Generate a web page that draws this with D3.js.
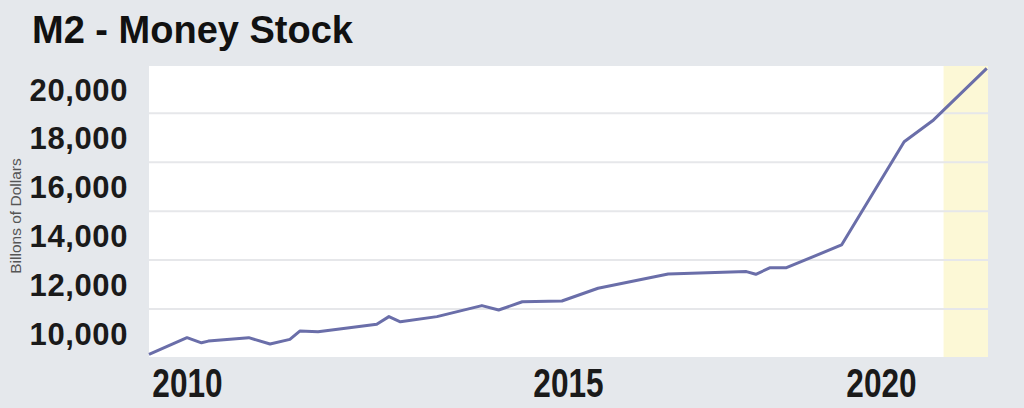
<!DOCTYPE html>
<html>
<head>
<meta charset="utf-8">
<script src="https://cdn.jsdelivr.net/npm/d3@7"></script>
<style>
  html, body { margin: 0; padding: 0; background: #e5e8ec; }
  svg { display: block; }
</style>
</head>
<body>
<svg id="chart"></svg>
<script>
// M2 money stock, billions of dollars
var dates = [2009.50, 2010.00, 2010.19, 2010.28, 2010.81, 2011.09, 2011.35, 2011.48, 2011.72,
             2012.49, 2012.65, 2012.80, 2013.28, 2013.87, 2014.09, 2014.40, 2014.92, 2015.48,
             2016.60, 2017.85, 2018.00, 2018.23, 2018.49, 2019.37, 2020.37, 2020.84, 2021.69]
var values = [9150, 9830, 9620, 9690, 9830, 9570, 9760, 10100, 10070,
              10380, 10690, 10480, 10690, 11140, 10960, 11300, 11330, 11850,
              12430, 12530, 12420, 12690, 12690, 13620, 17840, 18730, 20840]
var yTicks = [10000, 12000, 14000, 16000, 18000, 20000]
var gridValues = [11000, 13000, 15000, 17000, 19000]
var xTicks = [2010, 2015, 2020]
var highlightFrom = 2021

var width = 1024, height = 408
var margin = {top: 66, right: 36, bottom: 51, left: 149}

var svg = d3.select("#chart")
    .attr("width", width)
    .attr("height", height)

svg.append("rect")
    .attr("width", width).attr("height", height)
    .attr("fill", "#e5e8ec")

// the year ticks are not evenly spaced in the original, so the scale is piecewise
var x = d3.scaleLinear()
    .domain([2009.5, 2010, 2015, 2020, 2021.71])
    .range([margin.left, 187, 568, 881, width - margin.right])

var y = d3.scaleLinear()
    .domain([9040, 20935])
    .range([height - margin.bottom, margin.top])

svg.append("rect")
    .attr("x", x.range()[0])
    .attr("y", margin.top)
    .attr("width", x(d3.max(x.domain())) - x.range()[0])
    .attr("height", height - margin.bottom - margin.top)
    .attr("fill", "#ffffff")

// highlighted (shaded) period
svg.append("rect")
    .attr("x", x(highlightFrom))
    .attr("y", margin.top)
    .attr("width", x(d3.max(x.domain())) - x(highlightFrom))
    .attr("height", height - margin.bottom - margin.top)
    .attr("fill", "#fcf8d6")

svg.append("g")
    .selectAll("line")
    .data(gridValues)
    .enter().append("line")
    .attr("x1", margin.left)
    .attr("x2", width - margin.right)
    .attr("y1", function (d) { return y(d) })
    .attr("y2", function (d) { return y(d) })
    .attr("stroke", "#e6e7ea")
    .attr("stroke-width", 2)

// y labels
var yAxis = svg.append("g")
    .attr("transform", "translate(128,0)")
    .call(d3.axisLeft(y).tickValues(yTicks).tickSize(0).tickPadding(0).tickFormat(d3.format(",")))
yAxis.select(".domain").remove()
yAxis.selectAll("text")
    .attr("fill", "#1a1a1a")
    .attr("font-family", "'Liberation Sans', Arial, sans-serif")
    .attr("font-weight", "bold")
    .attr("font-size", 31)
    .attr("letter-spacing", 0.6)
    .attr("dy", "0.36em")

// x labels (condensed look: squeeze the bold face horizontally)
var xAxis = svg.append("g")
    .attr("transform", "translate(0," + (height - margin.bottom) + ")")
    .call(d3.axisBottom(x).tickValues(xTicks).tickSize(0).tickPadding(0).tickFormat(d3.format("d")))
xAxis.select(".domain").remove()
xAxis.selectAll("text")
    .attr("fill", "#1a1a1a")
    .attr("font-family", "'Liberation Sans', Arial, sans-serif")
    .attr("font-weight", "bold")
    .attr("font-size", 40)
    .attr("dy", null)
    .attr("y", 40)
    .attr("transform", "scale(0.79,1)")

svg.append("text")
    .attr("transform", "translate(21,216) rotate(-90)")
    .attr("text-anchor", "middle")
    .attr("font-family", "'Liberation Sans', Arial, sans-serif")
    .attr("font-size", 15.5)
    .attr("fill", "#555")
    .text("Billons of Dollars")

svg.append("text")
    .attr("x", 32)
    .attr("y", 43)
    .attr("font-family", "'Liberation Sans', Arial, sans-serif")
    .attr("font-weight", "bold")
    .attr("font-size", 38)
    .attr("fill", "#111")
    .text("M2 - Money Stock")

var line = d3.line()
    .x(function (d, i) { return x(dates[i]) })
    .y(function (d) { return y(d) })

svg.append("path")
    .datum(values)
    .attr("fill", "none")
    .attr("stroke", "#6a6ea9")
    .attr("stroke-width", 3)
    .attr("stroke-linejoin", "round")
    .attr("d", line)
</script>
</body>
</html>
